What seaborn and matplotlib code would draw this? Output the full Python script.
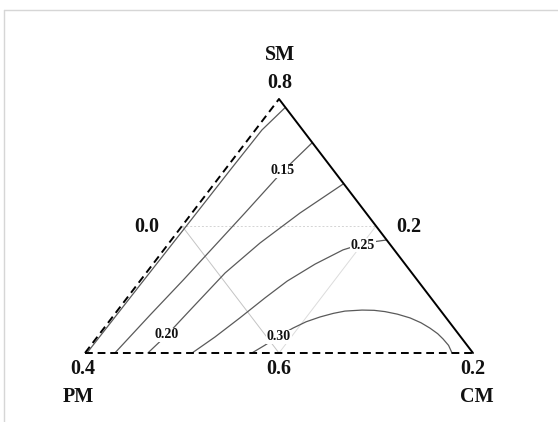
import matplotlib
matplotlib.use("Agg")
import matplotlib.pyplot as plt
from matplotlib.lines import Line2D
import numpy as np
import pandas as pd
import seaborn as sns

# Mixture response contours on the constrained SM / PM / CM simplex.
# Coordinates: u runs along the base (PM corner = 0, CM corner = 1),
# v is the height above the base (apex SM = 1).
components = ["SM", "PM", "CM"]
vertex_values = ["0.8", "0.4", "0.2"]      # SM apex, PM corner, CM corner
midpoint_values = ["0.0", "0.2", "0.6"]    # left side, right side, base

levels = [0.10, 0.15, 0.20, 0.25, 0.30]
contour_u = [
    [0.005, 0.142, 0.253, 0.374, 0.456, 0.515],
    [0.077, 0.168, 0.253, 0.412, 0.508, 0.585],
    [0.162, 0.211, 0.271, 0.361, 0.451, 0.554, 0.665],
    [0.276, 0.335, 0.399, 0.464, 0.521, 0.593, 0.665, 0.722, 0.777],
    [0.430, 0.464, 0.500, 0.536, 0.570, 0.606, 0.640, 0.670, 0.714, 0.745,
     0.773, 0.805, 0.838, 0.866, 0.889, 0.909, 0.923, 0.937, 0.946],
]
contour_v = [
    [0.000, 0.268, 0.484, 0.720, 0.878, 0.965],
    [0.000, 0.150, 0.287, 0.551, 0.713, 0.827],
    [0.000, 0.071, 0.169, 0.315, 0.433, 0.551, 0.665],
    [0.000, 0.063, 0.138, 0.217, 0.283, 0.350, 0.406, 0.433, 0.445],
    [0.000, 0.031, 0.067, 0.098, 0.123, 0.142, 0.156, 0.165, 0.169, 0.168,
     0.163, 0.153, 0.138, 0.119, 0.098, 0.076, 0.055, 0.030, 0.000],
]
# where each printed level sits on its curve
label_levels = ["0.15", "0.20", "0.25", "0.30"]
label_u = [0.508, 0.211, 0.716, 0.500]
label_v = [0.717, 0.071, 0.425, 0.063]

rows = []
for lev, us, vs in zip(levels, contour_u, contour_v):
    for k, (u, v) in enumerate(zip(us, vs)):
        rows.append({"level": lev, "order": k, "u": u, "v": v})
df = pd.DataFrame(rows)

sns.set_theme(style="white")
plt.rcParams["font.family"] = ["Liberation Serif", "DejaVu Serif"]

fig = plt.figure(figsize=(5.58, 4.22), dpi=100)
ax = fig.add_axes([0, 0, 1, 1])
ax.set_xlim(-85 / 388, (558 - 85) / 388)
ax.set_ylim((353 - 422) / 254, 353 / 254)
ax.axis("off")

# light reference lines joining the side midpoints
ax.plot([0.25, 0.75], [0.5, 0.5], color="#d4d4d4", lw=0.7, ls=(0, (2, 2)), zorder=1)
ax.plot([0.25, 0.5], [0.5, 0.0], color="#c4c4c4", lw=0.7, zorder=1)
ax.plot([0.5, 0.75], [0.0, 0.5], color="#dcdcdc", lw=0.7, zorder=1)

# contour curves
sns.lineplot(data=df, x="u", y="v", units="level", estimator=None, sort=False,
             color="#5a5a5a", lw=0.9, ax=ax, legend=False, zorder=2)

# triangle outline
ax.plot([0, 0.5], [0, 1], color="black", lw=1.4, ls=(0, (4, 2.5)), zorder=3)
ax.plot([0, 1], [0, 0], color="black", lw=1.4, ls=(0, (4, 2.5)), zorder=3)
ax.plot([0.5, 1], [1, 0], color="black", lw=1.4, zorder=3)

# contour level labels
for txt, u, v in zip(label_levels, label_u, label_v):
    ax.text(u, v, txt, ha="center", va="center", fontsize=10, fontweight="bold",
            color="#111111", zorder=4,
            bbox=dict(boxstyle="square,pad=0.05", fc="white", ec="none"))

big = dict(fontsize=14.5, fontweight="bold", color="#111111", ha="center", va="center")
ax.text(0.503, 1.173, components[0], **big)
ax.text(0.503, 1.063, vertex_values[0], **big)
ax.text(-0.005, -0.063, vertex_values[1], **big)
ax.text(1.0, -0.063, vertex_values[2], **big)
ax.text(-0.018, -0.173, components[1], **big)
ax.text(1.010, -0.173, components[2], **big)
ax.text(0.160, 0.496, midpoint_values[0], **big)
ax.text(0.835, 0.496, midpoint_values[1], **big)
ax.text(0.500, -0.063, midpoint_values[2], **big)

# thin page frame
fig.add_artist(Line2D([4 / 558, 1.0], [1 - 10 / 422, 1 - 10 / 422],
                      transform=fig.transFigure, color="#d6d6d6", lw=1.0))
fig.add_artist(Line2D([4 / 558, 4 / 558], [0.0, 1 - 10 / 422],
                      transform=fig.transFigure, color="#d6d6d6", lw=1.0))

fig.savefig("out.png", dpi=100, facecolor="white")
